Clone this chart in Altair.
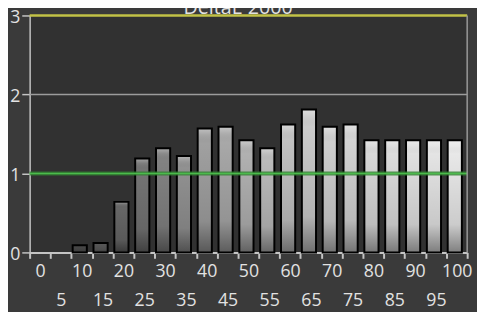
import altair as alt
import pandas as pd

# Data
stimulus = [0, 5, 10, 15, 20, 25, 30, 35, 40, 45, 50, 55, 60, 65, 70, 75, 80, 85, 90, 95, 100]
delta_e = [0, 0, 0.09, 0.12, 0.64, 1.19, 1.32, 1.22, 1.57, 1.59, 1.42, 1.32, 1.62, 1.81,
           1.59, 1.62, 1.42, 1.42, 1.42, 1.42, 1.42]
y_ticks = [0, 1, 2, 3]
title_text = "DeltaE 2000"

df = pd.DataFrame({"stimulus": stimulus, "delta_e": delta_e})

FONT = "Open Sans"
LABEL = "#e2e2e2"
AXIS = "#c4c4c4"

x_enc = alt.X(
    "stimulus:O",
    sort=stimulus,
    scale=alt.Scale(domain=stimulus, paddingInner=0, paddingOuter=0),
    axis=alt.Axis(
        title=None,
        tickBand="extent",
        tickSize=6,
        tickWidth=2,
        tickColor=AXIS,
        domainColor=AXIS,
        domainWidth=2,
        labelColor=LABEL,
        labelFont=FONT,
        labelFontSize=18,
        labelAngle=0,
        labelBaseline="top",
        labelPadding={"condition": {"test": "datum.value % 10 === 5", "value": 34}, "value": 5},
        labelFlush=False,
        labelOverlap=False,
        grid=False,
    ),
)
y_scale = alt.Scale(domain=[0, 3], nice=False)
y_enc = alt.Y(
    "delta_e:Q",
    scale=y_scale,
    axis=alt.Axis(
        title=None,
        values=y_ticks,
        format="d",
        tickSize=8,
        tickWidth=1.5,
        tickColor=AXIS,
        domainColor=AXIS,
        domainWidth=1.5,
        labelColor=LABEL,
        labelFont=FONT,
        labelFontSize=18,
        labelPadding=2,
        labelOffset=2.5,
        grid=False,
    ),
)

base = alt.Chart(df).transform_filter("datum.delta_e > 0")

bars = base.mark_bar(width={"band": 0.68}, xOffset=-2, strokeWidth=0).encode(
    x=x_enc,
    y=y_enc,
    color=alt.Color(
        "stimulus:Q",
        scale=alt.Scale(domain=[0, 20, 40, 65, 100],
                        range=["#2c2c2c", "#666666", "#a0a0a0", "#cbcbcb", "#e8e8e8"]),
        legend=None,
    ),
)

shade = base.mark_bar(
    width={"band": 0.68},
    xOffset=-2,
    stroke="#000000",
    strokeWidth=2,
    fill=alt.Gradient(
        gradient="linear",
        x1=0, x2=0, y1=0, y2=1,
        stops=[
            alt.GradientStop(offset=0, color="rgba(255,255,255,0.35)"),
            alt.GradientStop(offset=0.05, color="rgba(255,255,255,0.08)"),
            alt.GradientStop(offset=0.12, color="rgba(0,0,0,0)"),
            alt.GradientStop(offset=0.75, color="rgba(0,0,0,0.12)"),
            alt.GradientStop(offset=1, color="rgba(0,0,0,0.45)"),
        ],
    ),
).encode(x=x_enc, y=y_enc)

grid2 = alt.Chart().mark_rule(color="#9c9c9c", strokeWidth=1.5).encode(y=alt.datum(2, scale=y_scale))
green_glow = alt.Chart().mark_rule(color="#2f7f2f", strokeWidth=4, opacity=0.8).encode(y=alt.datum(1))
green = alt.Chart().mark_rule(color="#4cbb4c", strokeWidth=1.5).encode(y=alt.datum(1))
yellow = alt.Chart().mark_rule(color="#c2c246", strokeWidth=2.5).encode(y=alt.datum(3))
right_border = alt.Chart().mark_rule(color="#9a9a9a", strokeWidth=1.5).encode(
    x=alt.value(445), y=alt.value(0), y2=alt.value(241)
)
title = alt.Chart().mark_text(
    text=title_text, font=FONT, fontSize=20, color=LABEL, baseline="alphabetic", align="center"
).encode(x=alt.value(212), y=alt.value(-1))

chart = alt.layer(
    grid2, bars, shade, green_glow, green, yellow, right_border, title
).properties(
    width=445,
    height=241,
    padding={"left": 22, "top": 5, "right": 10, "bottom": 58},
    autosize=alt.AutoSizeParams(type="none"),
    background="#3a3a3a",
).configure_view(
    fill="#313131", strokeWidth=0
)

chart.save("out.html", embed_options={"renderer": "svg", "actions": False})
